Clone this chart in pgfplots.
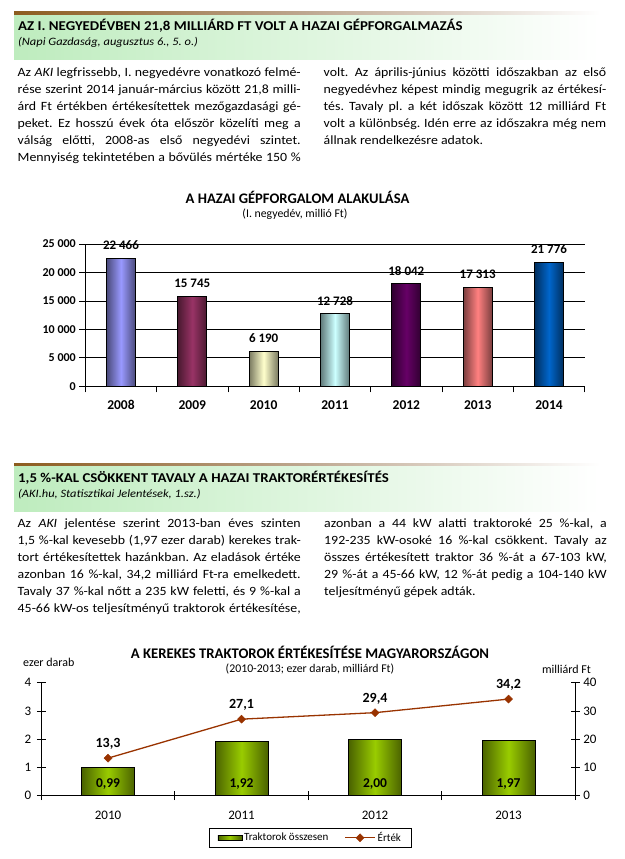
\documentclass[border=0pt]{standalone}
\usepackage{fontspec}
\setmainfont{Carlito}
\newfontfamily\pagefont{Carlito}[FakeStretch=1.1]
\usepackage{pgfplots}
\pgfplotsset{compat=1.18}
\pgfplotsset{mylinelegend/.style={legend image code/.code={\draw[mark repeat=2, mark phase=2, ##1] plot coordinates {(0pt,0pt) (15pt,0pt) (30pt,0pt)};}}}
\frenchspacing

\definecolor{hbrown}{RGB}{140,92,30}
\definecolor{hbrownmid}{RGB}{190,168,145}
\definecolor{hgreen}{RGB}{190,236,190}
\definecolor{cAl}{HTML}{9999FF}\definecolor{cAd}{HTML}{4A4A7A}
\definecolor{cBl}{HTML}{993366}\definecolor{cBd}{HTML}{4A1930}
\definecolor{cCl}{HTML}{FFFFCC}\definecolor{cCd}{HTML}{7A7A60}
\definecolor{cDl}{HTML}{CCFFFF}\definecolor{cDd}{HTML}{607A7A}
\definecolor{cEl}{HTML}{660066}\definecolor{cEd}{HTML}{300030}
\definecolor{cFl}{HTML}{FF8080}\definecolor{cFd}{HTML}{7A3E3E}
\definecolor{cGl}{HTML}{0066CC}\definecolor{cGd}{HTML}{002E5E}
\definecolor{gl}{HTML}{99CC00}\definecolor{gd}{HTML}{4A6200}
\definecolor{lineb}{HTML}{993300}

\newcommand\bodysize{\pagefont\fontsize{12.6}{17}\selectfont}
\newcommand\jl[4]{\node[anchor=base west,inner sep=0pt,font=\bodysize] at (#1pt,-#2pt) {\makebox[#3pt][s]{#4}};}
\newcommand\nl[3]{\node[anchor=base west,inner sep=0pt,font=\bodysize] at (#1pt,-#2pt) {#3};}

\begin{document}
\begin{tikzpicture}
\useasboundingbox (0pt,0pt) rectangle (624pt,-859pt);
\fill[white] (0pt,0pt) rectangle (624pt,-859pt);

% ---------- header 1
\shade[left color=hbrown, right color=white, middle color=hbrownmid] (14pt,-12pt) rectangle (600pt,-15.5pt);
\shade[left color=hgreen, right color=white] (14pt,-15.5pt) rectangle (600pt,-60pt);
\node[anchor=base west,inner sep=0pt,font=\pagefont\bfseries\fontsize{13.5}{15}\selectfont] at (18pt,-31pt) {AZ I. NEGYEDÉVBEN 21,8 MILLIÁRD FT VOLT A HAZAI GÉPFORGALMAZÁS};
\node[anchor=base west,inner sep=0pt,font=\pagefont\itshape\fontsize{11.3}{13}\selectfont] at (18pt,-46pt) {(Napi Gazdaság, augusztus 6., 5. o.)};

% ---------- text 1
\jl{17.5}{76}{283}{Az \textit{AKI} legfrissebb, I. negyedévre vonatkozó felmé-}
\jl{17.5}{93}{283}{rése szerint 2014 január-március között 21,8 milli-}
\jl{17.5}{110}{283}{árd Ft értékben értékesítettek mezőgazdasági gé-}
\jl{17.5}{127}{283}{peket. Ez hosszú évek óta először közelíti meg a}
\jl{17.5}{144}{283}{válság előtti, 2008-as első negyedévi szintet.}
\jl{17.5}{161}{283}{Mennyiség tekintetében a bővülés mértéke 150 \%}
\jl{323.5}{76}{282.5}{volt. Az április-június közötti időszakban az első}
\jl{323.5}{93}{282.5}{negyedévhez képest mindig megugrik az értékesí-}
\jl{323.5}{110}{282.5}{tés. Tavaly pl. a két időszak között 12 milliárd Ft}
\jl{323.5}{127}{282.5}{volt a különbség. Idén erre az időszakra még nem}
\nl{323.5}{144}{állnak rendelkezésre adatok.}

% ---------- chart 1
\node[font=\bfseries\fontsize{14.6}{16}\selectfont] at (297.5pt,-197.5pt) {A HAZAI GÉPFORGALOM ALAKULÁSA};
\node[font=\fontsize{11.8}{13}\selectfont] at (295pt,-214pt) {(I. negyedév, millió Ft)};

\begin{axis}[
  at={(85.3pt,-386.3pt)}, anchor=south west,
  scale only axis, width=499.4pt, height=142.3pt,
  xmin=-0.5, xmax=6.5, ymin=0, ymax=25000,
  scaled y ticks=false,
  axis x line*=bottom, axis y line*=left,
  axis line style={-, black, line width=0.9pt},
  ytick={0,5000,10000,15000,20000,25000},
  yticklabels={0,5 000,10 000,15 000,20 000,25 000},
  ymajorgrids, grid style={black, line width=0.8pt},
  xtick={0,1,2,3,4,5,6},
  xticklabels={2008,2009,2010,2011,2012,2013,2014},
  minor xtick={-0.5,0.5,1.5,2.5,3.5,4.5,5.5,6.5},
  major x tick style={draw=none},
  tick align=outside, major tick length=6pt, minor tick length=6pt,
  tick style={black, line width=0.8pt},
  xticklabel style={font=\bfseries\fontsize{13.5}{14}\selectfont, anchor=center, yshift=-12.7pt},
  yticklabel style={font=\bfseries\fontsize{12}{13}\selectfont},
  clip=false,
]
\addplot[ybar, bar width=29pt, bar shift=0pt, draw=black, line width=0.8pt, left color=cAd, right color=cAd, middle color=cAl] coordinates {(0,22466)};
\addplot[ybar, bar width=29pt, bar shift=0pt, draw=black, line width=0.8pt, left color=cBd, right color=cBd, middle color=cBl] coordinates {(1,15745)};
\addplot[ybar, bar width=29pt, bar shift=0pt, draw=black, line width=0.8pt, left color=cCd, right color=cCd, middle color=cCl] coordinates {(2,6190)};
\addplot[ybar, bar width=29pt, bar shift=0pt, draw=black, line width=0.8pt, left color=cDd, right color=cDd, middle color=cDl] coordinates {(3,12728)};
\addplot[ybar, bar width=29pt, bar shift=0pt, draw=black, line width=0.8pt, left color=cEd, right color=cEd, middle color=cEl] coordinates {(4,18042)};
\addplot[ybar, bar width=29pt, bar shift=0pt, draw=black, line width=0.8pt, left color=cFd, right color=cFd, middle color=cFl] coordinates {(5,17313)};
\addplot[ybar, bar width=29pt, bar shift=0pt, draw=black, line width=0.8pt, left color=cGd, right color=cGd, middle color=cGl] coordinates {(6,21776)};
\addplot[draw=none, nodes near coords, point meta=explicit symbolic,
  nodes near coords style={font=\bfseries\fontsize{13}{14}\selectfont, anchor=center, yshift=13pt, text=black}]
  coordinates {(0,22466) [22 466] (1,15745) [15 745] (2,6190) [6 190] (3,12728) [12 728] (4,18042) [18 042] (5,17313) [17 313] (6,21776) [21 776]};
\end{axis}

% ---------- header 2
\shade[left color=hbrown, right color=white, middle color=hbrownmid] (14pt,-463pt) rectangle (600pt,-466.5pt);
\shade[left color=hgreen, right color=white] (14pt,-466.5pt) rectangle (600pt,-511pt);
\node[anchor=base west,inner sep=0pt,font=\pagefont\bfseries\fontsize{13.5}{15}\selectfont] at (18pt,-482pt) {1,5 \%-KAL CSÖKKENT TAVALY A HAZAI TRAKTORÉRTÉKESÍTÉS};
\node[anchor=base west,inner sep=0pt,font=\pagefont\itshape\fontsize{11.3}{13}\selectfont] at (18pt,-497pt) {(AKI.hu, Statisztikai Jelentések, 1.sz.)};

% ---------- text 2
\jl{17.5}{527}{283}{Az \textit{AKI} jelentése szerint 2013-ban éves szinten}
\jl{17.5}{544}{283}{1,5 \%-kal kevesebb (1,97 ezer darab) kerekes trak-}
\jl{17.5}{561}{283}{tort értékesítettek hazánkban. Az eladások értéke}
\jl{17.5}{578}{283}{azonban 16 \%-kal, 34,2 milliárd Ft-ra emelkedett.}
\jl{17.5}{595}{283}{Tavaly 37 \%-kal nőtt a 235 kW feletti, és 9 \%-kal a}
\jl{17.5}{612}{283}{45-66 kW-os teljesítményű traktorok értékesítése,}
\jl{324}{527}{282.5}{azonban a 44 kW alatti traktoroké 25 \%-kal, a}
\jl{324}{544}{282.5}{192-235 kW-osoké 16 \%-kal csökkent. Tavaly az}
\jl{324}{561}{282.5}{összes értékesített traktor 36 \%-át a 67-103 kW,}
\jl{324}{578}{282.5}{29 \%-át a 45-66 kW, 12 \%-át pedig a 104-140 kW}
\nl{324}{595}{teljesítményű gépek adták.}

% ---------- chart 2
\node[font=\bfseries\fontsize{14.7}{16}\selectfont] at (310pt,-652.7pt) {A KEREKES TRAKTOROK ÉRTÉKESÍTÉSE MAGYARORSZÁGON};
\node[font=\fontsize{11.8}{13}\selectfont] at (310pt,-669.3pt) {(2010-2013; ezer darab, milliárd Ft)};
\node[font=\fontsize{12}{13}\selectfont] at (48.8pt,-662.7pt) {ezer darab};
\node[font=\fontsize{12}{13}\selectfont] at (566.5pt,-669.3pt) {milliárd Ft};

\begin{axis}[
  at={(41.3pt,-795.7pt)}, anchor=south west,
  scale only axis, width=534pt, height=113pt,
  xmin=-0.5, xmax=3.5, ymin=0, ymax=4,
  axis x line*=bottom, axis y line*=left,
  axis line style={-, black, line width=0.9pt},
  ytick={0,1,2,3,4}, yticklabels={0,1,2,3,4},
  xtick={0,1,2,3}, xticklabels={2010,2011,2012,2013},
  minor xtick={-0.5,0.5,1.5,2.5,3.5},
  major x tick style={draw=none},
  tick align=center, major tick length=9pt, minor tick length=9pt,
  tick style={black, line width=0.8pt},
  xticklabel style={font=\fontsize{13}{14}\selectfont, anchor=center, yshift=-15pt},
  yticklabel style={font=\fontsize{13}{14}\selectfont, xshift=-2pt},
  clip=false,
]
\addplot[ybar, bar width=53pt, bar shift=0pt, draw=black, line width=0.8pt, left color=gd, right color=gd, middle color=gl] coordinates {(0,0.99)};
\addplot[ybar, bar width=53pt, bar shift=0pt, draw=black, line width=0.8pt, left color=gd, right color=gd, middle color=gl] coordinates {(1,1.92)};
\addplot[ybar, bar width=53pt, bar shift=0pt, draw=black, line width=0.8pt, left color=gd, right color=gd, middle color=gl] coordinates {(2,2.00)};
\addplot[ybar, bar width=53pt, bar shift=0pt, draw=black, line width=0.8pt, left color=gd, right color=gd, middle color=gl] coordinates {(3,1.97)};
\addplot[draw=none, nodes near coords, point meta=explicit symbolic,
  nodes near coords style={font=\bfseries\fontsize{13.5}{14}\selectfont, anchor=center, yshift=12pt, text=black}]
  coordinates {(0,0) [{0,99}] (1,0) [{1,92}] (2,0) [{2,00}] (3,0) [{1,97}]};
\end{axis}

\begin{axis}[
  at={(41.3pt,-795.7pt)}, anchor=south west,
  scale only axis, width=534pt, height=113pt,
  xmin=-0.5, xmax=3.5, ymin=0, ymax=40,
  axis x line=none, axis y line*=right,
  axis line style={-, black, line width=0.9pt},
  ytick={0,10,20,30,40}, yticklabels={0,10,20,30,40},
  xtick=\empty,
  tick align=center, major tick length=9pt,
  tick style={black, line width=0.8pt},
  yticklabel style={font=\fontsize{13}{14}\selectfont},
  clip=false,
  legend style={at={(0.5037,-0.3726)}, anchor=center, draw=black, line width=0.8pt,
    font=\fontsize{11}{12}\selectfont, inner xsep=8pt, inner ysep=2.5pt,
    /tikz/every even column/.append style={column sep=14pt}},
  legend columns=2, legend cell align=left,
]
\addlegendimage{legend image code/.code={\draw[black, line width=0.6pt, left color=gd, right color=gd, middle color=gl] (0pt,-2.6pt) rectangle (24pt,2.6pt);}}
\addlegendentry{Traktorok összesen}
\addplot[color=lineb, line width=1.3pt, mark=square*, mark size=2.8pt, mark options={fill=lineb, rotate=45, line width=0.5pt}, mylinelegend]
  coordinates {(0,13.3) (1,27.1) (2,29.4) (3,34.2)};
\addlegendentry{Érték}
\addplot[draw=none, nodes near coords, point meta=explicit symbolic, forget plot,
  nodes near coords style={font=\bfseries\fontsize{14}{15}\selectfont, anchor=center, yshift=14pt, text=black}]
  coordinates {(0,13.3) [{13,3}] (1,27.1) [{27,1}] (2,29.4) [{29,4}] (3,34.2) [{34,2}]};
\end{axis}
\end{tikzpicture}
\end{document}
